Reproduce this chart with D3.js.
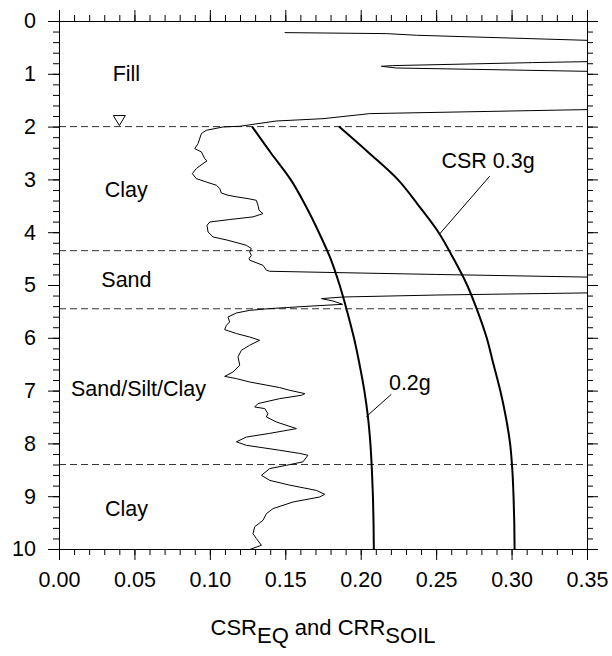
<!DOCTYPE html>
<html>
<head>
<meta charset="utf-8">
<script src="https://cdn.jsdelivr.net/npm/d3@7"></script>
<style>
  body { margin: 0; background: #fff; }
  text { font-family: Arial, "Liberation Sans", sans-serif; fill: #000; }
</style>
</head>
<body>
<div id="chart"></div>
<script>
// layer boundaries (depth, m)
const layerDepths = [2.0, 4.35, 5.45, 8.4];
const layerNames = ["Fill", "Clay", "Sand", "Sand/Silt/Clay", "Clay"];

// CSR curves read at regular depths
const csrDepths = [2.0, 2.5, 3.0, 3.5, 4.0, 4.5, 5.0, 5.5, 6.0, 6.5, 7.0, 7.5, 8.0, 8.5, 9.0, 9.5, 10.0];
const csr02g = [0.128, 0.1405, 0.1535, 0.1635, 0.1722, 0.180, 0.186, 0.191, 0.1955, 0.1992, 0.2024, 0.2048, 0.2064, 0.2074, 0.2081, 0.2085, 0.2087];
const csr03g = [0.1856, 0.2055, 0.2245, 0.2385, 0.2515, 0.2615, 0.2705, 0.2775, 0.2835, 0.288, 0.2925, 0.2962, 0.299, 0.3005, 0.3013, 0.3018, 0.302];

// CRR soil profile (depth, value); values past 0.35 run off the plot
const crrDepth = [0.22, 0.239, 0.27, 0.366, 0.40,
  0.74, 0.77, 0.788, 0.845, 0.858, 0.89, 0.953, 0.98,
  1.66, 1.678, 1.754, 1.85, 1.894, 1.994, 2.007, 2.07, 2.13, 2.32, 2.417, 2.48, 2.607, 2.65, 2.70, 2.795, 2.89, 2.985,
  3.05, 3.11, 3.17, 3.257, 3.30, 3.33, 3.364, 3.396, 3.49, 3.585, 3.648, 3.71, 3.76, 3.807, 3.87, 3.996,
  4.09, 4.153, 4.248, 4.31, 4.375, 4.438, 4.5, 4.53, 4.627, 4.72, 4.74, 4.765, 4.80, 4.85, 4.86,
  5.14, 5.15, 5.19, 5.227, 5.258, 5.303, 5.366, 5.397, 5.447, 5.48, 5.53, 5.606, 5.70, 5.763, 5.845, 5.92, 5.985,
  6.047, 6.14, 6.237, 6.36, 6.52, 6.648, 6.73, 6.773, 6.837, 6.943, 6.994,
  7.057, 7.089, 7.152, 7.246, 7.31, 7.341, 7.436, 7.5, 7.594, 7.72, 7.81, 7.88, 7.97,
  8.036, 8.13, 8.19, 8.225, 8.35, 8.415, 8.477, 8.604, 8.7, 8.79, 8.89, 8.964,
  9.015, 9.11, 9.235, 9.33, 9.457, 9.58, 9.71, 9.80, 9.93, 10.02];
const crrValue = [0.1496, 0.217, 0.237, 0.35, 0.37,
  0.37, 0.35, 0.314, 0.221, 0.2137, 0.2236, 0.35, 0.37,
  0.37, 0.35, 0.206, 0.175, 0.144, 0.1198, 0.1087, 0.0977, 0.0944, 0.0922, 0.090, 0.0944, 0.0966, 0.0981, 0.0955, 0.091, 0.0884, 0.091,
  0.0977, 0.1043, 0.1065, 0.1076, 0.112, 0.1176, 0.1253, 0.1308, 0.1319, 0.1326, 0.1352, 0.1286, 0.1132, 0.0999, 0.0981, 0.0988,
  0.1021, 0.112, 0.1242, 0.1275, 0.1264, 0.1275, 0.126, 0.1264, 0.1352, 0.1375, 0.1397, 0.1839, 0.25, 0.35, 0.37,
  0.37, 0.35, 0.25, 0.1883, 0.174, 0.1816, 0.188, 0.1684, 0.1397, 0.1264, 0.1176, 0.112, 0.1131, 0.111, 0.1098, 0.1176, 0.1264,
  0.133, 0.1264, 0.1209, 0.1187, 0.1198, 0.1153, 0.1098, 0.1176, 0.1264, 0.1463, 0.1529,
  0.163, 0.1607, 0.1463, 0.1319, 0.1297, 0.1364, 0.1385, 0.1375, 0.1441, 0.1574, 0.1397, 0.1242, 0.1176,
  0.1242, 0.1463, 0.1596, 0.165, 0.1617, 0.1507, 0.1397, 0.1342, 0.1397, 0.1529, 0.1706, 0.1761,
  0.1728, 0.1551, 0.1419, 0.1375, 0.1352, 0.1297, 0.1286, 0.1308, 0.1342, 0.1253];

const xTicks = [0, 0.05, 0.10, 0.15, 0.20, 0.25, 0.30, 0.35];
const yTicks = [0, 1, 2, 3, 4, 5, 6, 7, 8, 9, 10];

const width = 612, height = 656;
const margin = { top: 21, left: 59, right: 25, bottom: 107 };
const w = width - margin.left - margin.right;
const h = height - margin.top - margin.bottom;
const fontSize = 21.5;

const x = d3.scaleLinear().domain([0, 0.35]).range([0, w]);
const y = d3.scaleLinear().domain([0, 10]).range([0, h]);

const svg = d3.select("#chart").append("svg")
    .attr("width", width)
    .attr("height", height);

svg.append("defs").append("clipPath").attr("id", "plot-clip")
    .append("rect").attr("width", w).attr("height", h);

const g = svg.append("g")
    .attr("transform", `translate(${margin.left},${margin.top})`);

// layer boundaries
g.selectAll(".layer")
    .data(layerDepths)
    .enter().append("line")
    .attr("class", "layer")
    .attr("x1", 0).attr("x2", w)
    .attr("y1", d => y(d)).attr("y2", d => y(d))
    .attr("stroke", "#333")
    .attr("stroke-width", 1)
    .attr("stroke-dasharray", "7,4");

const plot = g.append("g").attr("clip-path", "url(#plot-clip)");

const crrLine = d3.line()
    .x(d => x(d[1]))
    .y(d => y(d[0]));

plot.append("path")
    .datum(crrDepth.map((d, i) => [d, crrValue[i]]))
    .attr("d", crrLine)
    .attr("fill", "none")
    .attr("stroke", "#000")
    .attr("stroke-width", 1)
    .attr("stroke-linejoin", "round");

const csrLine = d3.line()
    .curve(d3.curveMonotoneY)
    .x(d => x(d[1]))
    .y(d => y(d[0]));

[csr02g, csr03g].forEach(series => {
  plot.append("path")
      .datum(csrDepths.map((d, i) => [d, series[i]]))
      .attr("d", csrLine)
      .attr("fill", "none")
      .attr("stroke", "#000")
      .attr("stroke-width", 2);
});

// axes: major + minor ticks, all pointing outward
const xMinor = d3.range(0, 0.3501, 0.01);
const yMinor = d3.range(0, 10.001, 0.2);

function drawAxis(axisFn, scale, major, minor, transform, fmt, labelled) {
  const minorAxis = axisFn(scale).tickValues(minor).tickSize(6).tickSizeOuter(0).tickFormat("");
  const majorAxis = axisFn(scale).tickValues(major).tickSize(11).tickSizeOuter(0)
      .tickPadding(labelled ? 12 : 0)
      .tickFormat(labelled ? fmt : "");
  const a = g.append("g").attr("transform", transform).call(minorAxis);
  const b = g.append("g").attr("transform", transform).call(majorAxis);
  [a, b].forEach(s => {
    s.selectAll("path, line").attr("stroke", "#000").attr("stroke-width", 1);
    s.selectAll("text").style("font-size", fontSize + "px").attr("fill", "#000");
  });
  return b;
}

drawAxis(d3.axisBottom, x, xTicks, xMinor, `translate(0,${h})`, d3.format(".2f"), true);
drawAxis(d3.axisTop, x, xTicks, xMinor, "translate(0,0)", null, false);
drawAxis(d3.axisLeft, y, yTicks, yMinor, "translate(0,0)", d3.format("d"), true);
drawAxis(d3.axisRight, y, yTicks, yMinor, `translate(${w},0)`, null, false);

// layer labels
const layerLabelPos = [[0.0447, 1.142], [0.0446, 3.339], [0.0447, 5.044], [0.0527, 7.108], [0.0447, 9.375]];
g.selectAll(".layer-label")
    .data(layerNames)
    .enter().append("text")
    .attr("class", "layer-label")
    .attr("x", (d, i) => x(layerLabelPos[i][0]))
    .attr("y", (d, i) => y(layerLabelPos[i][1]))
    .attr("text-anchor", "middle")
    .style("font-size", fontSize + "px")
    .text(d => d);

// water table symbol
const wtX = x(0.04), wtY = y(1.98);
g.append("path")
    .attr("d", `M${wtX - 6},${wtY - 10}L${wtX + 6},${wtY - 10}L${wtX},${wtY}Z`)
    .attr("fill", "#fff")
    .attr("stroke", "#000")
    .attr("stroke-width", 1);

// curve annotations
const notes = [
  { text: "CSR 0.3g", tx: 0.2535, ty: 2.78, from: [0.2855, 2.94], to: [0.2524, 4.03] },
  { text: "0.2g", tx: 0.2187, ty: 6.98, from: [0.2203, 7.07], to: [0.2038, 7.49] }
];
notes.forEach(n => {
  g.append("text")
      .attr("x", x(n.tx)).attr("y", y(n.ty))
      .style("font-size", fontSize + "px")
      .text(n.text);
  g.append("line")
      .attr("x1", x(n.from[0])).attr("y1", y(n.from[1]))
      .attr("x2", x(n.to[0])).attr("y2", y(n.to[1]))
      .attr("stroke", "#000").attr("stroke-width", 1);
});

// axis title with subscripts
const title = svg.append("text")
    .attr("x", margin.left + w / 2)
    .attr("y", 635)
    .attr("text-anchor", "middle")
    .style("font-size", "22px");
title.append("tspan").text("CSR");
title.append("tspan").attr("dy", 8).text("EQ");
title.append("tspan").attr("dy", -8).text(" and CRR");
title.append("tspan").attr("dy", 8).text("SOIL");
</script>
</body>
</html>
